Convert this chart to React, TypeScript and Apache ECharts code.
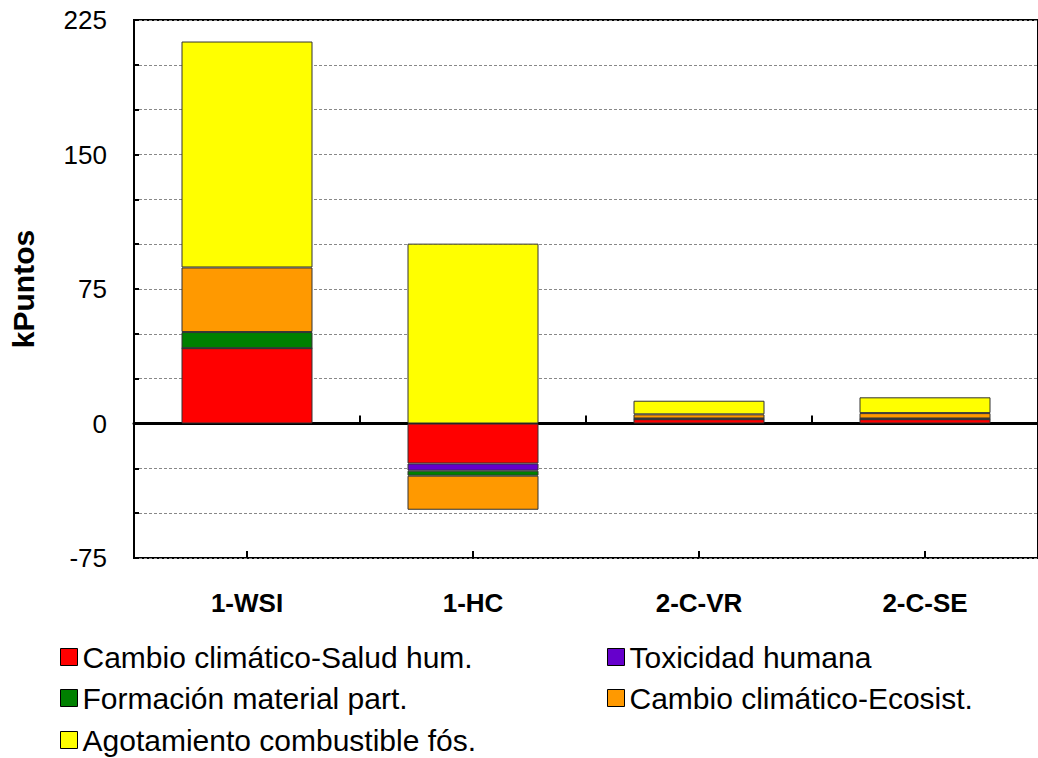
import React, { useEffect, useRef } from "react";
import * as echarts from "echarts";

const categories = ["1-WSI", "1-HC", "2-C-VR", "2-C-SE"];
const seriesNames = [
  "Cambio climático-Salud hum.",
  "Toxicidad humana",
  "Formación material part.",
  "Cambio climático-Ecosist.",
  "Agotamiento combustible fós.",
];
const saludHum = [42, -22.3, 2.4, 2.4];
const toxicidad = [0, -4, 0.1, 0.1];
const formacion = [9, -2.8, 0.3, 0.3];
const ecosist = [36, -19, 2.3, 3.0];
const agotamiento = [126, 100.3, 7.6, 8.8];
const colors = ["#FF0000", "#6600CC", "#008000", "#FF9900", "#FFFF00"];
const yTicks = [-75, 0, 75, 150, 225];

const FONT = "Arial, 'Liberation Sans', sans-serif";

// legend placement: [series index, left, top]
const legendSlots: [number, number, number][] = [
  [0, 60, 642],
  [1, 607, 642],
  [2, 60, 683],
  [3, 607, 683],
  [4, 60, 725],
];

export default function App() {
  const ref = useRef<HTMLDivElement>(null);
  useEffect(() => {
    if (!ref.current) return;
    const chart = echarts.init(ref.current, undefined, { renderer: "svg" });
    const values = [saludHum, toxicidad, formacion, ecosist, agotamiento];
    const series = values.map((d, i) => ({
      name: seriesNames[i],
      type: "bar",
      stack: "total",
      xAxisIndex: 0,
      barWidth: 131,
      data: d,
      itemStyle: { color: colors[i], borderColor: "#333", borderWidth: 1 },
    }));
    const legend = legendSlots.map(([si, left, top]) => ({
      orient: "horizontal",
      left,
      top,
      padding: 0,
      itemWidth: 17,
      itemHeight: 17,
      icon: "rect",
      itemStyle: { borderColor: "#000", borderWidth: 1 },
      textStyle: { fontFamily: FONT, fontSize: 30, color: "#000", lineHeight: 30 },
      data: [seriesNames[si]],
    }));
    chart.setOption({
      animation: false,
      backgroundColor: "#fff",
      grid: {
        left: 133,
        top: 20,
        width: 914,
        height: 538,
        show: true,
        borderColor: "#000",
        borderWidth: 2,
        backgroundColor: "transparent",
      },
      legend,
      xAxis: [
        {
          type: "category",
          data: categories,
          position: "bottom",
          axisLine: { show: false, onZero: false },
          axisTick: { show: false },
          axisLabel: {
            margin: 32,
            fontFamily: FONT,
            fontSize: 26,
            fontWeight: "bold",
            color: "#000",
          },
          splitLine: { show: false },
        },
        {
          type: "category",
          data: categories,
          position: "bottom",
          axisLine: { show: true, onZero: true, lineStyle: { color: "#000", width: 3 } },
          axisTick: { show: true, inside: true, length: 8, lineStyle: { color: "#000", width: 2 } },
          axisLabel: { show: false },
          splitLine: { show: false },
        },
        {
          type: "category",
          data: categories,
          position: "bottom",
          axisLine: { show: false, onZero: true },
          axisTick: {
            show: true,
            inside: true,
            alignWithLabel: true,
            length: 7,
            lineStyle: { color: "#000", width: 2 },
          },
          axisLabel: { show: false },
          splitLine: { show: false },
        },
      ],
      yAxis: {
        type: "value",
        min: -75,
        max: 225,
        interval: 25,
        name: "kPuntos",
        nameLocation: "middle",
        nameGap: 96,
        nameTextStyle: { fontFamily: FONT, fontSize: 30, fontWeight: "bold", color: "#000" },
        axisLine: { show: true, lineStyle: { color: "#000", width: 2 } },
        axisTick: { show: true, inside: true, length: 5, lineStyle: { color: "#000", width: 2 } },
        axisLabel: {
          margin: 27,
          fontFamily: FONT,
          fontSize: 26,
          color: "#000",
          formatter: (v: number) => (yTicks.includes(v) ? String(v) : ""),
        },
        splitLine: { show: true, lineStyle: { color: "#888", width: 1, type: [3, 2] } },
      },
      series,
    });
    return () => chart.dispose();
  }, []);
  return (
    <div
      ref={ref}
      style={{ position: "absolute", left: 0, top: 0, width: 1038, height: 758, background: "#fff" }}
    />
  );
}
